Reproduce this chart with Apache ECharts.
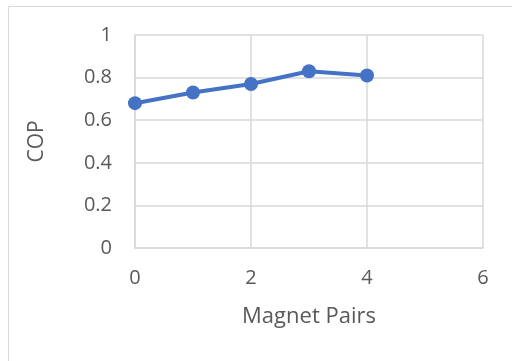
<!DOCTYPE html>
<html>
<head>
<meta charset="utf-8">
<script src="https://cdn.jsdelivr.net/npm/echarts@6/dist/echarts.min.js"></script>
<style>
  html, body { margin: 0; padding: 0; background: #fff; }
  #chart { width: 512px; height: 361px; }
</style>
</head>
<body>
<div id="chart"></div>
<script>
// Coefficient of performance vs. number of magnet pairs
const magnetPairs = [0, 1, 2, 3, 4];
const cop = [0.68, 0.73, 0.77, 0.83, 0.81];
const xTicks = [0, 2, 4, 6];
const yTicks = [0, 0.2, 0.4, 0.6, 0.8, 1];

const FONT = '"Open Sans", "Liberation Sans", sans-serif';
const TEXT = '#595959';
const GRID = '#d9d9d9';

const chart = echarts.init(document.getElementById('chart'), null, { renderer: 'canvas' });
chart.setOption({
  animation: false,
  backgroundColor: '#ffffff',
  graphic: [{
    type: 'rect',
    shape: { x: 8.5, y: 6.5, width: 520, height: 400 },
    style: { fill: 'none', stroke: '#d9d9d9', lineWidth: 1 },
    silent: true
  }],
  grid: { left: 135, top: 35, right: 29, bottom: 113, containLabel: false },
  xAxis: {
    type: 'value',
    min: xTicks[0], max: xTicks[xTicks.length - 1], interval: 2,
    name: 'Magnet Pairs', nameLocation: 'middle', nameGap: 58,
    nameTextStyle: { color: TEXT, fontFamily: FONT, fontSize: 22 },
    axisLine: { show: true, lineStyle: { color: GRID, width: 1.5 } },
    axisTick: { show: false },
    axisLabel: { color: TEXT, fontFamily: FONT, fontSize: 20, margin: 20 },
    splitLine: { show: true, lineStyle: { color: GRID, width: 1.5 } }
  },
  yAxis: {
    type: 'value',
    min: yTicks[0], max: yTicks[yTicks.length - 1], interval: 0.2,
    name: 'COP', nameLocation: 'middle', nameGap: 87, nameRotate: 90,
    nameTextStyle: { color: TEXT, fontFamily: FONT, fontSize: 21 },
    axisLine: { show: true, lineStyle: { color: GRID, width: 1.5 } },
    axisTick: { show: false },
    axisLabel: { color: TEXT, fontFamily: FONT, fontSize: 20, margin: 23 },
    splitLine: { show: true, lineStyle: { color: GRID, width: 1.5 } }
  },
  series: [{
    type: 'line',
    data: magnetPairs.map((x, i) => [x, cop[i]]),
    symbol: 'circle',
    symbolSize: 14,
    itemStyle: { color: '#4472C4' },
    lineStyle: { color: '#4472C4', width: 4 }
  }]
});
</script>
</body>
</html>
